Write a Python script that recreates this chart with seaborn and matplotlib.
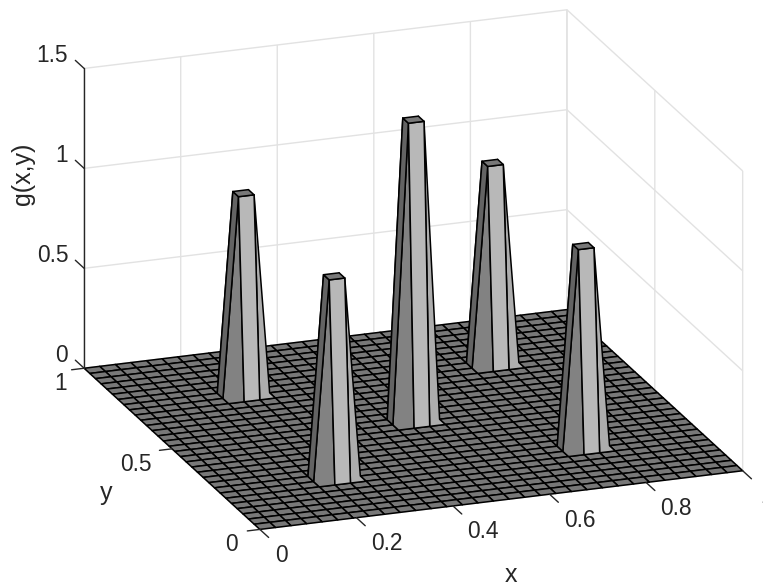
import numpy as np
import seaborn as sns
import matplotlib.pyplot as plt
from mpl_toolkits.mplot3d import proj3d

# Superficie g(x,y): malha de 32 pontos, picos com topo de uma celula
n_pontos = 32
peak_ix = [7, 7, 15, 23, 23]
peak_iy = [7, 23, 15, 7, 23]
peak_h = [1.0, 1.0, 1.5, 1.0, 1.0]

x_ticks = [0, 0.2, 0.4, 0.6, 0.8, 1]
x_labels = ["0", "0.2", "0.4", "0.6", "0.8", "1"]
y_ticks = [0, 0.5, 1]
y_labels = ["0", "0.5", "1"]
z_ticks = [0, 0.5, 1, 1.5]
z_labels = ["0", "0.5", "1", "1.5"]

# Tons de cinza das faces
cinza_chao = 0.47
cinza_esq = 0.39
cinza_canto = 0.51
cinza_frente = 0.72
cinza_dir = 0.68
cor_texto = "#262626"

sns.set_theme(style="white")
plt.rcParams["font.family"] = ["Liberation Sans", "DejaVu Sans"]

eixo = np.linspace(0, 1, n_pontos)
X, Y = np.meshgrid(eixo, eixo)
Z = np.zeros_like(X)
cores = np.full((n_pontos, n_pontos), cinza_chao)
alfa = np.ones((n_pontos, n_pontos))
for i, j, h in zip(peak_ix, peak_iy, peak_h):
    Z[j:j + 2, i:i + 2] = h
    cores[j, i - 1] = cinza_esq
    cores[j - 1, i - 1] = cinza_canto
    cores[j - 1, i] = cinza_frente
    cores[j - 1, i + 1] = cinza_dir
    # faces de tras nao aparecem
    alfa[j, i + 1] = 0
    alfa[j + 1, i] = 0
cores_rgb = np.dstack([cores, cores, cores, alfa])
arestas = np.zeros((n_pontos - 1, n_pontos - 1, 4))
arestas[..., 3] = alfa[:-1, :-1]

fig = plt.figure(figsize=(7.63, 5.86), dpi=100)
ax = fig.add_axes([18 / 763, -79 / 586, 770 / 763, 770 / 586], projection="3d")
ax.set_proj_type("ortho")
ax.view_init(elev=19.5, azim=-110)
ax.set_box_aspect((1, 1, 0.619))

surf = ax.plot_surface(X, Y, Z, facecolors=cores_rgb, rstride=1, cstride=1,
                       shade=False, linewidth=1.1, antialiased=True)
surf.set_edgecolor(arestas.reshape(-1, 4))

# Marcas dos eixos, desenhadas nos dados
for t in x_ticks:
    ax.plot([t, t], [0, -0.05], [0, 0], color=cor_texto, lw=1.0)
for t in y_ticks:
    ax.plot([0, -0.026], [t, t], [0, 0], color=cor_texto, lw=1.0)
for t in z_ticks:
    ax.plot([0, 0], [1, 1.05], [t, t], color=cor_texto, lw=1.0)
ax.plot([0, 0], [1, 1], [0, 1.5], color=cor_texto, lw=1.0)

ax.set_xlim(0, 1)
ax.set_ylim(0, 1)
ax.set_zlim(0, 1.5)
ax.set_xticks(x_ticks, [""] * len(x_ticks))
ax.set_yticks(y_ticks, [""] * len(y_ticks))
ax.set_zticks(z_ticks, [""] * len(z_ticks))
ax.tick_params(color=(0, 0, 0, 0))

for eixo3d in (ax.xaxis, ax.yaxis, ax.zaxis):
    eixo3d.set_pane_color((1, 1, 1, 0))
    eixo3d.pane.set_edgecolor("none")
    eixo3d._axinfo["grid"]["color"] = "#e2e2e2"
    eixo3d._axinfo["grid"]["linewidth"] = 1.0
    eixo3d.line.set_color((0, 0, 0, 0))


# Textos ancorados na posicao 3D, com deslocamento em pixels
def rotulo(texto, pos, dx, dy, ha, size=16.4, rotation=0):
    px, py, _ = proj3d.proj_transform(*pos, ax.get_proj())
    ax.annotate(texto, (px, py), xytext=(dx, dy), textcoords="offset pixels",
                ha=ha, va="center", fontsize=size, color=cor_texto,
                rotation=rotation, annotation_clip=False)


x_dx = [15, 14.5, 14.5, 14.5, 14.5, 18]
for t, s, dx in zip(x_ticks, x_labels, x_dx):
    rotulo(s, (t, 0, 0), dx, -26, "left")
y_dx = [-22, -20, -17]
for t, s, dx in zip(y_ticks, y_labels, y_dx):
    rotulo(s, (0, t, 0), dx, -15.5, "right")
for t, s in zip(z_ticks, z_labels):
    rotulo(s, (0, 1, t), -16, 12.5, "right")

rotulo("x", (0.5, 0, 0), 10, -75, "center", size=18)
rotulo("y", (0, 0.5, 0), -66, -44, "center", size=18)
rotulo("g(x,y)", (0, 1, 0.75), -61, 45, "center", size=18, rotation=90)

plt.savefig("out.png", dpi=100)
